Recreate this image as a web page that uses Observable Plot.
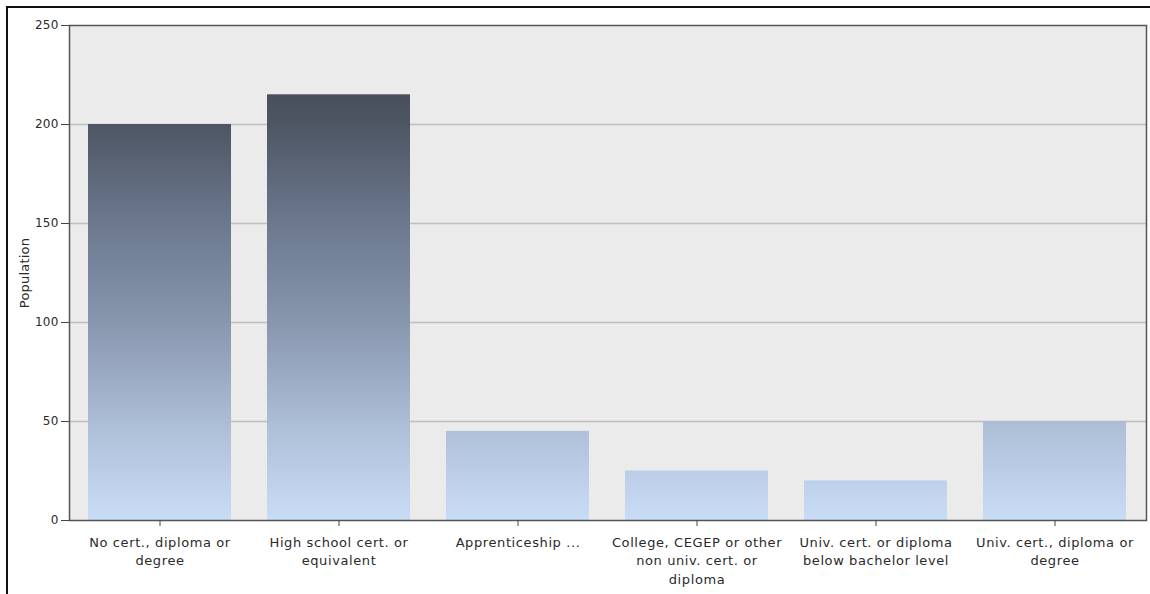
<!DOCTYPE html>
<html>
<head>
<meta charset="utf-8">
<script src="https://cdn.jsdelivr.net/npm/d3@7"></script>
<script src="https://cdn.jsdelivr.net/npm/@observablehq/plot@0.6"></script>
<style>
  html, body { margin: 0; padding: 0; background: #fff; }
  #wrap { position: relative; width: 1150px; height: 594px; overflow: hidden; }
  #border { position: absolute; left: 6px; top: 6px; width: 1200px; height: 700px; border-left: 2px solid #111; border-top: 2px solid #111; pointer-events: none; }
  .xax text { letter-spacing: 0.6px; }
  .yax text { letter-spacing: 0.2px; }
</style>
</head>
<body>
<div id="wrap"><div id="border"></div></div>
<script>
const categories = [
  "No cert., diploma or\ndegree",
  "High school cert. or\nequivalent",
  "Apprenticeship ...",
  "College, CEGEP or other\nnon univ. cert. or\ndiploma",
  "Univ. cert. or diploma\nbelow bachelor level",
  "Univ. cert., diploma or\ndegree"
];
const population = [200, 215, 45, 25, 20, 50];
const yTicks = [0, 50, 100, 150, 200, 250];
// gradient colour stops by value
const gradValues = [0, 45, 100, 150, 200, 250];
const gradColors = ["#c9dcf6", "#afc0d9", "#8896ae", "#6b788e", "#4e5663", "#3c4149"];

const data = categories.map((c, i) => ({category: c, value: population[i]}));

const chart = Plot.plot({
  width: 1150,
  height: 594,
  marginLeft: 69,
  marginRight: 4,
  marginTop: 25,
  marginBottom: 74,
  style: {fontFamily: "'DejaVu Sans', Verdana, sans-serif", fontSize: "12px", color: "#2a2a2a", background: "transparent"},
  x: {domain: categories, paddingInner: 0.2, paddingOuter: 0.1, label: null},
  y: {domain: [0, 250], ticks: yTicks, label: "Population"},
  marks: [
    Plot.frame({fill: "#ebebeb", stroke: null}),
    Plot.gridY(yTicks.filter(d => d > 0 && d < 250), {stroke: "#bdbdbd", strokeOpacity: 1, strokeWidth: 1.5}),
    Plot.barY(data, {x: "category", y: "value", fill: "url(#barGrad)"}),
    Plot.frame({stroke: "#555", strokeWidth: 1.5}),
    Plot.axisY({ticks: yTicks, tickSize: 8, tickPadding: 3, fontSize: 12, stroke: "#444", className: "yax", label: null}),
    Plot.text(["Population"], {frameAnchor: "left", textAnchor: "middle", dx: -45, rotate: -90, fontSize: 13, fill: "#2a2a2a", className: "yax"}),
    Plot.axisX({tickSize: 6, tickPadding: 7, fontSize: 13, lineHeight: 1.42, stroke: "#444", className: "xax", label: null})
  ]
});

const svgNS = "http://www.w3.org/2000/svg";
const y = chart.scale("y");
const defs = document.createElementNS(svgNS, "defs");
const grad = document.createElementNS(svgNS, "linearGradient");
grad.setAttribute("id", "barGrad");
grad.setAttribute("gradientUnits", "userSpaceOnUse");
grad.setAttribute("x1", 0); grad.setAttribute("x2", 0);
grad.setAttribute("y1", y.apply(0)); grad.setAttribute("y2", y.apply(250));
gradValues.forEach((v, i) => {
  const s = document.createElementNS(svgNS, "stop");
  s.setAttribute("offset", v / 250);
  s.setAttribute("stop-color", gradColors[i]);
  grad.appendChild(s);
});
defs.appendChild(grad);
chart.insertBefore(defs, chart.firstChild);
document.getElementById("wrap").appendChild(chart);
</script>
</body>
</html>
